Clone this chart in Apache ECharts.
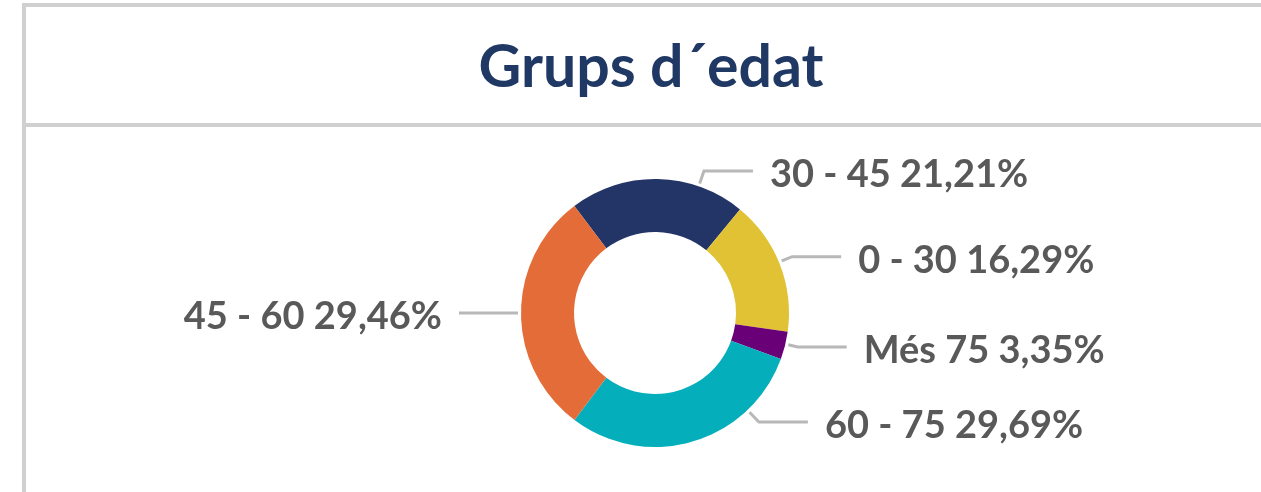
<!DOCTYPE html>
<html>
<head>
<meta charset="utf-8">
<script src="https://cdn.jsdelivr.net/npm/echarts@6/dist/echarts.min.js"></script>
<style>
  html, body { margin: 0; padding: 0; background: #fff; }
  #chart { width: 1261px; height: 492px; }
</style>
</head>
<body>
<div id="chart"></div>
<script>
	'use strict'

	/*-----data-----*/
	var groups = ['30 - 45', '0 - 30', 'Més 75', '60 - 75', '45 - 60'];
	var shares = [21.21, 16.29, 3.35, 29.69, 29.46];
	var colors = ['#223566', '#E0C234', '#6A0077', '#05AEBB', '#E46C38'];
	// label nudges (px) so the labels sit where the original puts them
	var labelShift = [[43, 6], [0, 0], [0, 3], [60, -25], [0, 4]];

	var pieCenter = [655, 313];
	var pieRadius = [81, 134];
	var lineGap = 17, lineLen = 49;

	var chart = echarts.init(document.getElementById('chart'));
	var option = {
		animation: false,
		graphic: [
			{ type: 'rect', shape: { x: 22, y: 3, width: 1239, height: 4 }, style: { fill: '#d0d0d0' } },
			{ type: 'rect', shape: { x: 22, y: 123, width: 1239, height: 4 }, style: { fill: '#d0d0d0' } },
			{ type: 'rect', shape: { x: 22, y: 3, width: 4, height: 489 }, style: { fill: '#d0d0d0' } },
			{
				type: 'text', x: 651, y: 68,
				style: {
					text: 'Grups d´edat',
					fill: '#203864',
					font: 'bold 59px Lato',
					textAlign: 'center',
					textVerticalAlign: 'middle'
				}
			}
		],
		series: [{
			type: 'pie',
			center: pieCenter,
			radius: pieRadius,
			startAngle: 127,
			avoidLabelOverlap: false,
			data: groups.map(function(g, i) {
				return { name: g, value: shares[i], itemStyle: { color: colors[i] } };
			}),
			label: {
				show: true,
				position: 'outside',
				color: '#595959',
				fontFamily: 'Lato',
				fontWeight: 'bold',
				fontSize: 38,
				distanceToLabelLine: lineGap,
				formatter: function(p) {
					return p.name + ' ' + p.value.toFixed(2).replace('.', ',') + '%';
				}
			},
			labelLine: {
				show: true,
				length: 10,
				length2: lineLen + 3,
				lineStyle: { color: '#b8b8b8', width: 3 }
			},
			labelLayout: function(p) {
				var s = labelShift[p.dataIndex];
				var r = p.labelRect;
				var right = p.align === 'right';
				var tx = (right ? r.x + r.width : r.x) + s[0];
				var ty = r.y + r.height / 2 + s[1];
				// elbow line like the original: short spoke off the ring, then flat
				var sign = right ? 1 : -1;
				var ex = tx + sign * lineGap;
				var bx = ex + sign * lineLen, by = ty - 4;
				var dx = bx - pieCenter[0], dy = by - pieCenter[1];
				var d = Math.sqrt(dx * dx + dy * dy);
				var R = pieRadius[1] + 3;
				return {
					x: tx,
					y: ty,
					align: p.align,
					verticalAlign: 'middle',
					labelLinePoints: [
						[pieCenter[0] + R * dx / d, pieCenter[1] + R * dy / d],
						[bx, by],
						[ex, by]
					]
				};
			}
		}]
	};
	chart.setOption(option);
</script>
</body>
</html>
